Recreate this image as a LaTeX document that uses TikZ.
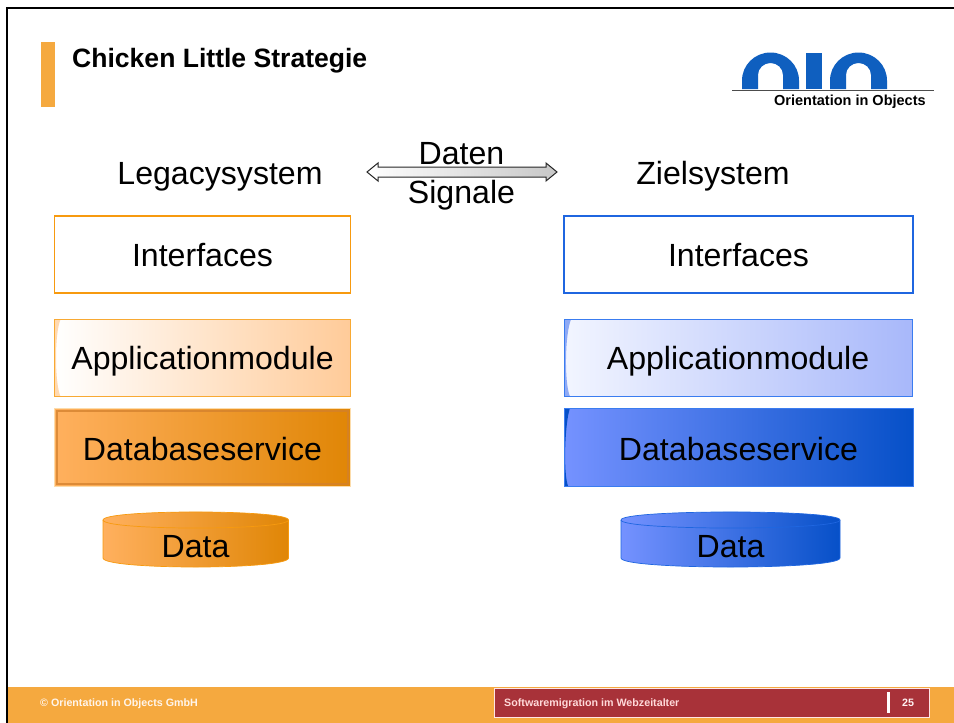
\documentclass[tikz,border=0pt]{standalone}
\usepackage{fontspec}
\setmainfont{Liberation Sans}
\usetikzlibrary{calc}
\definecolor{barorange}{HTML}{F5A93F}
\definecolor{lineorange}{HTML}{F79A0F}
\definecolor{ooblue}{HTML}{0F5FBF}
\definecolor{lineblue}{HTML}{1F66E0}
\definecolor{thinblue}{HTML}{3A7CF0}
\definecolor{footred}{HTML}{A83239}
\definecolor{appOr}{HTML}{FFCB99}
\definecolor{appOs}{HTML}{FFD9B0}
\definecolor{appBl}{HTML}{F2F5FF}
\definecolor{appBr}{HTML}{A8B8FA}
\definecolor{appBs}{HTML}{8FAAF5}
\definecolor{dbOl}{HTML}{FFB05E}
\definecolor{dbOr}{HTML}{E08606}
\definecolor{dbBl}{HTML}{7592FF}
\definecolor{dbBr}{HTML}{0650C8}
\tikzset{
  big/.style={font=\fontsize{32.1}{32}\selectfont,anchor=base,text=black,inner sep=0pt},
  layerbox/.style={minimum height=#1,inner sep=0pt,outer sep=0pt,anchor=north west},
  orangeline/.style={draw=lineorange!85!white,line width=1.1pt},
  blueline/.style={draw=thinblue,line width=1pt},
  appO/.style={left color=white,right color=appOr,orangeline},
  appB/.style={left color=appBl,right color=appBr,blueline},
  dbO/.style={left color=dbOl,right color=dbOr},
  dbB/.style={left color=dbBl,right color=dbBr,blueline},
  footertext/.style={font=\bfseries\fontsize{10.7}{11}\selectfont,anchor=base west,inner sep=0pt},
}
\begin{document}
\begin{tikzpicture}[x=1pt,y=-1pt]
\useasboundingbox (0,0) rectangle (954,723);
\fill[white] (0,0) rectangle (954,723);
% page frame and footer
\draw[black,line width=2pt] (7,723) -- (7,8) -- (954,8);
\fill[barorange] (8,687) rectangle (954,723);
\fill[barorange] (41,42) rectangle (55,107);
\node[font=\bfseries\fontsize{26.55}{27}\selectfont,anchor=base west,inner sep=0pt] (title) at (72,67) {Chicken Little Strategie};
% logo
\fill[ooblue] (742,89) -- (742,80.5) arc[start angle=180,end angle=360,x radius=28.5,y radius=28] -- (799,89) -- (783,89) -- (783,75) arc[start angle=0,end angle=-180,x radius=12.5,y radius=12] -- (758,89) -- cycle;
\fill[ooblue] (806,52.5) rectangle (822,89);
\fill[ooblue] (830,89) -- (830,80.5) arc[start angle=180,end angle=360,x radius=28.5,y radius=28] -- (887,89) -- (871,89) -- (871,75) arc[start angle=0,end angle=-180,x radius=12.5,y radius=12] -- (846,89) -- cycle;
\draw[black!70,line width=0.9pt] (732,90.3) -- (934,90.3);
\node[font=\bfseries\fontsize{14.5}{15}\selectfont,anchor=base west,inner sep=0pt] (logotext) at (774,105) {Orientation in Objects};
% headings
\node[big] (legacy) at (220,184.5) {Legacysystem};
\node[big] (ziel) at (713,184.5) {Zielsystem};
% arrow
\coordinate (arrowL) at (367,172);
\coordinate (arrowR) at (557,172);
\path[left color=white,right color=black!22,draw=black!85,line width=1pt]
  (arrowL) -- ($(arrowL)+(11,-9)$) -- ($(arrowL)+(11,-5)$) -- ($(arrowR)+(-11,-5)$) -- ($(arrowR)+(-11,-9)$) -- (arrowR)
  -- ($(arrowR)+(-11,9)$) -- ($(arrowR)+(-11,5)$) -- ($(arrowL)+(11,5)$) -- ($(arrowL)+(11,9)$) -- cycle;
\node[big] (daten) at (461.5,164.5) {Daten};
\node[big] (signale) at (461.5,203.5) {Signale};
% left stack
\node[layerbox=77pt,minimum width=296pt,draw=lineorange,line width=1.6pt,fill=white] (ifL) at (54.5,216) {};
\node[big] at ($(ifL.north)+(0,50)$) (ifLt) {Interfaces};
\node[layerbox=77pt,minimum width=296pt,appO] (appL) at (54.5,319.5) {};
\fill[appOs] (appL.north west) -- ++(6,0) .. controls +(-6,14) and +(-6,-14) .. ($(appL.south west)+(6,0)$) -- (appL.south west) -- cycle;
\draw[orangeline] (appL.north west) rectangle (appL.south east);
\node[big] at ($(appL.north)+(0,50)$) (appLt) {Applicationmodule};
\node[layerbox=78pt,minimum width=296pt,dbO,draw=lineorange!35!white,line width=1.4pt] (dbL) at (54.5,408.5) {};
\draw[draw=brown!70!orange,line width=2pt,opacity=.75] ($(dbL.north west)+(2.5,2.5)$) rectangle ($(dbL.south east)+(-2.5,-2.5)$);
\node[big] at ($(dbL.north)+(0,51.5)$) (dbLt) {Databaseservice};
% right stack
\node[layerbox=77pt,minimum width=349pt,draw=lineblue,line width=1.6pt,fill=white] (ifR) at (564,216) {};
\node[big] at ($(ifR.north)+(0,50)$) (ifRt) {Interfaces};
\node[layerbox=77pt,minimum width=348pt,appB] (appR) at (564,319.5) {};
\fill[appBs] (appR.north west) -- ++(7,0) .. controls +(-6,14) and +(-6,-14) .. ($(appR.south west)+(6,0)$) -- (appR.south west) -- cycle;
\draw[blueline] (appR.north west) rectangle (appR.south east);
\node[big] at ($(appR.north)+(0,50)$) (appRt) {Applicationmodule};
\node[layerbox=78pt,minimum width=349pt,dbB] (dbR) at (564,408) {};
\fill[dbBr] (dbR.north west) -- ++(6,0) .. controls +(-5,14) and +(-5,-14) .. ($(dbR.south west)+(4,0)$) -- (dbR.south west) -- cycle;
\draw[blueline] (dbR.north west) rectangle (dbR.south east);
\node[big] at ($(dbR.north)+(0,52)$) (dbRt) {Databaseservice};
% cylinders
\draw[left color=dbOl,right color=dbOr,draw=lineorange,line width=0.7pt]
  (103,520) .. controls (103,509.3) and (288.5,509.3) .. (288.5,520) -- (288.5,558)
  .. controls (288.5,570) and (103,570) .. (103,558) -- cycle;
\draw[lineorange,line width=0.7pt] (103,520) .. controls (103,530.7) and (288.5,530.7) .. (288.5,520);
\node[big] (dataL) at (195.5,557) {Data};
\draw[left color=dbBl,right color=dbBr,draw=lineblue,line width=0.7pt]
  (621,520) .. controls (621,509.3) and (840,509.3) .. (840,520) -- (840,558)
  .. controls (840,570) and (621,570) .. (621,558) -- cycle;
\draw[lineblue,line width=0.7pt] (621,520) .. controls (621,530.7) and (840,530.7) .. (840,520);
\node[big] (dataR) at (730.5,557) {Data};
% footer
\node[footertext,text=white!92!orange] (copy) at (40,706.5) {© Orientation in Objects GmbH};
\node[anchor=north west,inner sep=0pt,outer sep=0pt,minimum width=435pt,minimum height=29pt,fill=footred,draw=white!90!red,line width=1pt] (redbar) at (494,688) {};
\fill[white] (886.5,692) rectangle (889.5,713);
\node[footertext,text=white!85!red] (foot) at (504,706.5) {Softwaremigration im Webzeitalter};
\node[footertext,text=white!95!red] (page) at (902,706.5) {25};
\end{tikzpicture}
\end{document}
